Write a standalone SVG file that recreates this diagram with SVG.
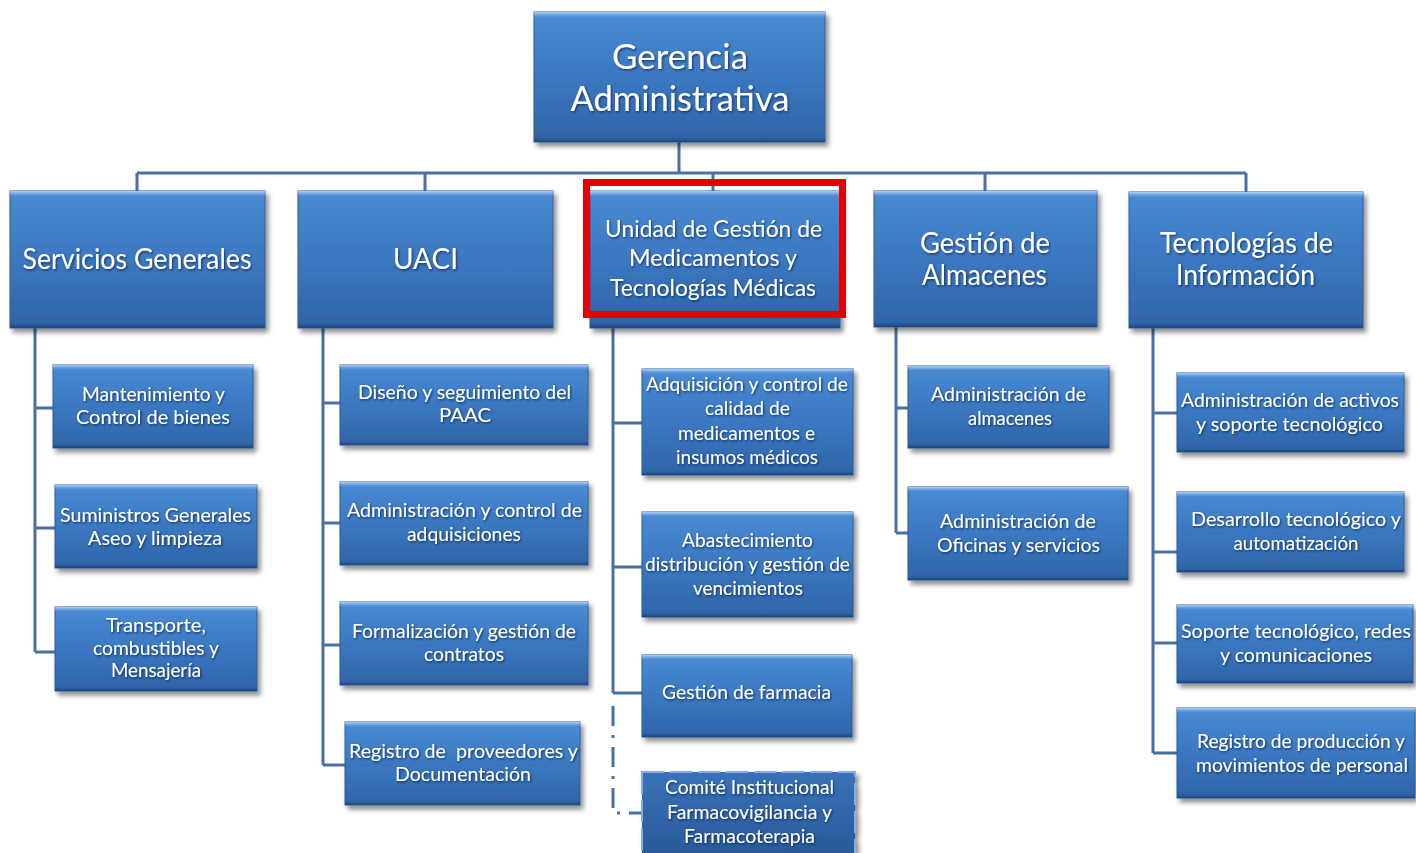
<svg xmlns="http://www.w3.org/2000/svg" width="1416" height="853" viewBox="0 0 1416 853">
  <defs>
    <linearGradient id="boxFill" x1="0" y1="0" x2="0" y2="1">
      <stop offset="0" stop-color="#4a8bd4"/>
      <stop offset="0.5" stop-color="#3b78c1"/>
      <stop offset="1" stop-color="#2e63a6"/>
    </linearGradient>
    <linearGradient id="hiFill" x1="0" y1="0" x2="0" y2="1">
      <stop offset="0" stop-color="#b9d8f8" stop-opacity="0.95"/>
      <stop offset="1" stop-color="#6fa6e2" stop-opacity="0"/>
    </linearGradient>
    <linearGradient id="loFill" x1="0" y1="0" x2="0" y2="1">
      <stop offset="0" stop-color="#1e4a82" stop-opacity="0"/>
      <stop offset="1" stop-color="#1c4578" stop-opacity="0.95"/>
    </linearGradient>
    <linearGradient id="dashFill" x1="0" y1="0" x2="0" y2="1">
      <stop offset="0" stop-color="#3a72b8"/>
      <stop offset="1" stop-color="#265695"/>
    </linearGradient>
    <filter id="drop" x="-10%" y="-10%" width="125%" height="135%">
      <feDropShadow dx="3" dy="4" stdDeviation="2.5" flood-color="#000" flood-opacity="0.45"/>
    </filter>
    <filter id="glow" x="-5%" y="-20%" width="110%" height="150%">
      <feDropShadow dx="1" dy="1.2" stdDeviation="0.9" flood-color="#0a2550" flood-opacity="0.85"/>
    </filter>
  </defs>
  <style>
    .box { fill: url(#boxFill); stroke: #2b5d9c; stroke-width: 1; filter: url(#drop); }
    .hi { fill: url(#hiFill); }
    .lo { fill: url(#loFill); }
    .dashbox { fill: url(#dashFill); stroke: #86afe0; stroke-width: 2; stroke-dasharray: 22 6; filter: url(#drop); }
    text { font-family: Lato, "Open Sans", "Liberation Sans", sans-serif; fill: #ffffff; text-anchor: middle; filter: url(#glow); }
    .t1 { font-size: 34px; }
    .t2 { font-size: 28px; }
    .t2s { font-size: 23px; }
    .t3 { font-size: 19px; }
    .wire { fill: none; stroke: #4870a2; stroke-width: 3; }
    .wire-dash { fill: none; stroke: #4870a2; stroke-width: 3; stroke-dasharray: 20 9 3 9; }
    .mark { fill: none; stroke: #e60000; stroke-width: 7; }
  </style>

  <rect width="1416" height="853" fill="#ffffff"/>

  <!-- connectors -->
  <g id="connectors">
    <path class="wire" d="M679 142 V173 M137 173 H1246 M137 173 V191 M425 173 V191 M713 173 V191 M985 173 V191 M1246 173 V192"/>
    <path class="wire" d="M35 328 V652 M35 408 H53 M35 528 H55 M35 652 H55"/>
    <path class="wire" d="M323 328 V765 M323 403 H340 M323 523 H340 M323 645 H340 M323 765 H345"/>
    <path class="wire" d="M613 328 V693 M613 423 H642 M613 567 H642 M613 693 H642"/>
    <path class="wire-dash" d="M613 706 V813 H642"/>
    <path class="wire" d="M896 327 V533 M896 408 H908 M896 533 H908"/>
    <path class="wire" d="M1153 328 V753 M1153 413 H1177 M1153 552 H1177 M1153 643 H1177 M1153 753 H1177"/>
  </g>

  <!-- top level -->
  <g id="gerencia">
    <rect class="box" x="534" y="12" width="291" height="130"/>
    <rect class="hi" x="534" y="12" width="291" height="6"/>
    <rect class="lo" x="534" y="137" width="291" height="5"/>
    <text class="t1" x="680" y="69" textLength="136" lengthAdjust="spacingAndGlyphs">Gerencia</text>
    <text class="t1" x="680" y="111" textLength="219" lengthAdjust="spacingAndGlyphs">Administrativa</text>
  </g>

  <!-- second level -->
  <g id="servicios">
    <rect class="box" x="10" y="191" width="255" height="137"/>
    <rect class="hi" x="10" y="191" width="255" height="6"/>
    <rect class="lo" x="10" y="323" width="255" height="5"/>
    <text class="t2" x="137" y="269" textLength="229" lengthAdjust="spacingAndGlyphs">Servicios Generales</text>
  </g>
  <g id="uaci">
    <rect class="box" x="298" y="191" width="255" height="137"/>
    <rect class="hi" x="298" y="191" width="255" height="6"/>
    <rect class="lo" x="298" y="323" width="255" height="5"/>
    <text class="t2" x="425.5" y="269" textLength="65" lengthAdjust="spacingAndGlyphs">UACI</text>
  </g>
  <g id="medicamentos">
    <rect class="box" x="590" y="191" width="250" height="137"/>
    <rect class="hi" x="590" y="191" width="250" height="6"/>
    <rect class="lo" x="590" y="323" width="250" height="5"/>
    <text class="t2s" x="713.5" y="237" textLength="217" lengthAdjust="spacingAndGlyphs">Unidad de Gestión de</text>
    <text class="t2s" x="713" y="266" textLength="168" lengthAdjust="spacingAndGlyphs">Medicamentos y</text>
    <text class="t2s" x="713" y="296" textLength="206" lengthAdjust="spacingAndGlyphs">Tecnologías Médicas</text>
    <rect class="mark" x="586.5" y="182.5" width="256" height="132"/>
  </g>
  <g id="almacenes">
    <rect class="box" x="874" y="191" width="223" height="136"/>
    <rect class="hi" x="874" y="191" width="223" height="6"/>
    <rect class="lo" x="874" y="322" width="223" height="5"/>
    <text class="t2" x="985" y="253" textLength="130" lengthAdjust="spacingAndGlyphs">Gestión de</text>
    <text class="t2" x="984.5" y="285" textLength="125" lengthAdjust="spacingAndGlyphs">Almacenes</text>
  </g>
  <g id="tecnologias">
    <rect class="box" x="1129" y="192" width="234" height="136"/>
    <rect class="hi" x="1129" y="192" width="234" height="6"/>
    <rect class="lo" x="1129" y="323" width="234" height="5"/>
    <text class="t2" x="1246.5" y="253" textLength="173" lengthAdjust="spacingAndGlyphs">Tecnologías de</text>
    <text class="t2" x="1245.5" y="285" textLength="139" lengthAdjust="spacingAndGlyphs">Información</text>
  </g>

  <!-- Servicios Generales units -->
  <g id="mantenimiento">
    <rect class="box" x="53" y="365" width="200" height="83"/>
    <rect class="hi" x="53" y="365" width="200" height="5"/>
    <rect class="lo" x="53" y="444" width="200" height="4"/>
    <text class="t3" x="153.5" y="401" textLength="143" lengthAdjust="spacingAndGlyphs">Mantenimiento y</text>
    <text class="t3" x="153" y="424" textLength="154" lengthAdjust="spacingAndGlyphs">Control de bienes</text>
  </g>
  <g id="suministros">
    <rect class="box" x="55" y="485" width="202" height="83"/>
    <rect class="hi" x="55" y="485" width="202" height="5"/>
    <rect class="lo" x="55" y="564" width="202" height="4"/>
    <text class="t3" x="155.5" y="522" textLength="191" lengthAdjust="spacingAndGlyphs">Suministros Generales</text>
    <text class="t3" x="155" y="545" textLength="134" lengthAdjust="spacingAndGlyphs">Aseo y limpieza</text>
  </g>
  <g id="transporte">
    <rect class="box" x="55" y="607" width="202" height="84"/>
    <rect class="hi" x="55" y="607" width="202" height="5"/>
    <rect class="lo" x="55" y="687" width="202" height="4"/>
    <text class="t3" x="156" y="632" textLength="100" lengthAdjust="spacingAndGlyphs">Transporte,</text>
    <text class="t3" x="156" y="655" textLength="126" lengthAdjust="spacingAndGlyphs">combustibles y</text>
    <text class="t3" x="156" y="677" textLength="90" lengthAdjust="spacingAndGlyphs">Mensajería</text>
  </g>

  <!-- UACI units -->
  <g id="paac">
    <rect class="box" x="340" y="365" width="248" height="80"/>
    <rect class="hi" x="340" y="365" width="248" height="5"/>
    <rect class="lo" x="340" y="441" width="248" height="4"/>
    <text class="t3" x="464.5" y="399" textLength="213" lengthAdjust="spacingAndGlyphs">Diseño y seguimiento del</text>
    <text class="t3" x="465" y="422" textLength="52" lengthAdjust="spacingAndGlyphs">PAAC</text>
  </g>
  <g id="adquisiciones">
    <rect class="box" x="340" y="482" width="248" height="83"/>
    <rect class="hi" x="340" y="482" width="248" height="5"/>
    <rect class="lo" x="340" y="561" width="248" height="4"/>
    <text class="t3" x="464.5" y="517" textLength="235" lengthAdjust="spacingAndGlyphs">Administración y control de</text>
    <text class="t3" x="464" y="541" textLength="114" lengthAdjust="spacingAndGlyphs">adquisiciones</text>
  </g>
  <g id="contratos">
    <rect class="box" x="340" y="602" width="248" height="83"/>
    <rect class="hi" x="340" y="602" width="248" height="5"/>
    <rect class="lo" x="340" y="681" width="248" height="4"/>
    <text class="t3" x="464" y="638" textLength="224" lengthAdjust="spacingAndGlyphs">Formalización y gestión de</text>
    <text class="t3" x="464" y="661" textLength="80" lengthAdjust="spacingAndGlyphs">contratos</text>
  </g>
  <g id="proveedores">
    <rect class="box" x="345" y="722" width="235" height="83"/>
    <rect class="hi" x="345" y="722" width="235" height="5"/>
    <rect class="lo" x="345" y="801" width="235" height="4"/>
    <text class="t3" x="463.5" y="758" textLength="229" lengthAdjust="spacingAndGlyphs" xml:space="preserve">Registro de  proveedores y</text>
    <text class="t3" x="463" y="781" textLength="136" lengthAdjust="spacingAndGlyphs">Documentación</text>
  </g>

  <!-- Medicamentos units -->
  <g id="calidad">
    <rect class="box" x="642" y="369" width="211" height="106"/>
    <rect class="hi" x="642" y="369" width="211" height="5"/>
    <rect class="lo" x="642" y="471" width="211" height="4"/>
    <text class="t3" x="747" y="391" textLength="202" lengthAdjust="spacingAndGlyphs">Adquisición y control de</text>
    <text class="t3" x="747.5" y="415" textLength="85" lengthAdjust="spacingAndGlyphs">calidad de</text>
    <text class="t3" x="746.5" y="440" textLength="137" lengthAdjust="spacingAndGlyphs">medicamentos e</text>
    <text class="t3" x="747" y="464" textLength="142" lengthAdjust="spacingAndGlyphs">insumos médicos</text>
  </g>
  <g id="abastecimiento">
    <rect class="box" x="642" y="512" width="211" height="105"/>
    <rect class="hi" x="642" y="512" width="211" height="5"/>
    <rect class="lo" x="642" y="613" width="211" height="4"/>
    <text class="t3" x="747.5" y="547" textLength="131" lengthAdjust="spacingAndGlyphs">Abastecimiento</text>
    <text class="t3" x="747.5" y="571" textLength="205" lengthAdjust="spacingAndGlyphs">distribución y gestión de</text>
    <text class="t3" x="748" y="595" textLength="110" lengthAdjust="spacingAndGlyphs">vencimientos</text>
  </g>
  <g id="farmacia">
    <rect class="box" x="642" y="655" width="210" height="82"/>
    <rect class="hi" x="642" y="655" width="210" height="5"/>
    <rect class="lo" x="642" y="733" width="210" height="4"/>
    <text class="t3" x="746.5" y="699" textLength="169" lengthAdjust="spacingAndGlyphs">Gestión de farmacia</text>
  </g>
  <g id="comite">
    <rect class="dashbox" x="642" y="772" width="213" height="92"/>
    <text class="t3" x="749.5" y="794" textLength="169" lengthAdjust="spacingAndGlyphs">Comité Institucional</text>
    <text class="t3" x="749.5" y="819" textLength="165" lengthAdjust="spacingAndGlyphs">Farmacovigilancia y</text>
    <text class="t3" x="749.5" y="843" textLength="131" lengthAdjust="spacingAndGlyphs">Farmacoterapia</text>
  </g>

  <!-- Almacenes units -->
  <g id="adm-almacenes">
    <rect class="box" x="908" y="366" width="201" height="82"/>
    <rect class="hi" x="908" y="366" width="201" height="5"/>
    <rect class="lo" x="908" y="444" width="201" height="4"/>
    <text class="t3" x="1008.5" y="401" textLength="155" lengthAdjust="spacingAndGlyphs">Administración de</text>
    <text class="t3" x="1010" y="425" textLength="84" lengthAdjust="spacingAndGlyphs">almacenes</text>
  </g>
  <g id="adm-oficinas">
    <rect class="box" x="908" y="487" width="220" height="93"/>
    <rect class="hi" x="908" y="487" width="220" height="5"/>
    <rect class="lo" x="908" y="576" width="220" height="4"/>
    <text class="t3" x="1018" y="528" textLength="156" lengthAdjust="spacingAndGlyphs">Administración de</text>
    <text class="t3" x="1018.5" y="552" textLength="163" lengthAdjust="spacingAndGlyphs">Oficinas y servicios</text>
  </g>

  <!-- Tecnologías units -->
  <g id="activos">
    <rect class="box" x="1177" y="373" width="227" height="79"/>
    <rect class="hi" x="1177" y="373" width="227" height="5"/>
    <rect class="lo" x="1177" y="448" width="227" height="4"/>
    <text class="t3" x="1290" y="407" textLength="218" lengthAdjust="spacingAndGlyphs">Administración de activos</text>
    <text class="t3" x="1289.5" y="431" textLength="187" lengthAdjust="spacingAndGlyphs">y soporte tecnológico</text>
  </g>
  <g id="desarrollo">
    <rect class="box" x="1177" y="492" width="227" height="80"/>
    <rect class="hi" x="1177" y="492" width="227" height="5"/>
    <rect class="lo" x="1177" y="568" width="227" height="4"/>
    <text class="t3" x="1296" y="526" textLength="210" lengthAdjust="spacingAndGlyphs">Desarrollo tecnológico y</text>
    <text class="t3" x="1296" y="550" textLength="125" lengthAdjust="spacingAndGlyphs">automatización</text>
  </g>
  <g id="redes">
    <rect class="box" x="1177" y="605" width="236" height="78"/>
    <rect class="hi" x="1177" y="605" width="236" height="5"/>
    <rect class="lo" x="1177" y="679" width="236" height="4"/>
    <text class="t3" x="1296" y="638" textLength="230" lengthAdjust="spacingAndGlyphs">Soporte tecnológico, redes</text>
    <text class="t3" x="1296" y="662" textLength="152" lengthAdjust="spacingAndGlyphs">y comunicaciones</text>
  </g>
  <g id="personal">
    <rect class="box" x="1177" y="708" width="238" height="90"/>
    <rect class="hi" x="1177" y="708" width="238" height="5"/>
    <rect class="lo" x="1177" y="794" width="238" height="4"/>
    <text class="t3" x="1301" y="748" textLength="208" lengthAdjust="spacingAndGlyphs">Registro de producción y</text>
    <text class="t3" x="1302" y="772" textLength="212" lengthAdjust="spacingAndGlyphs">movimientos de personal</text>
  </g>
</svg>
